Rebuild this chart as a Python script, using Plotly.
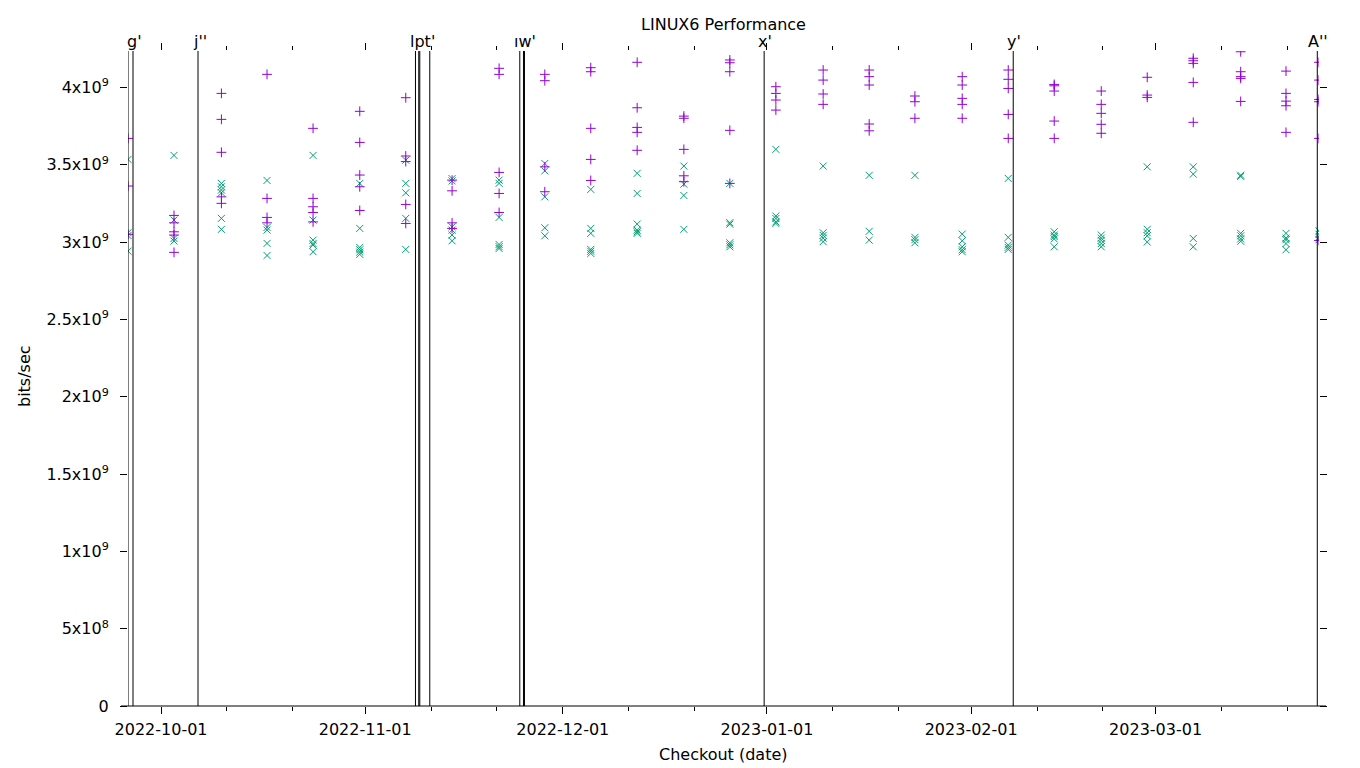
import plotly.graph_objects as go

# ---------------- data ----------------
checkout_dates = [
    "2022-09-25 23:44", "2022-10-02 23:23", "2022-10-10 04:08", "2022-10-17 02:20",
    "2022-10-24 02:00", "2022-10-31 04:12", "2022-11-07 03:50", "2022-11-14 04:34",
    "2022-11-21 07:55", "2022-11-28 06:29", "2022-12-05 06:00", "2022-12-12 06:58",
    "2022-12-19 09:07", "2022-12-26 08:38", "2023-01-02 08:24", "2023-01-09 12:43",
    "2023-01-16 12:29", "2023-01-23 11:02", "2023-01-30 15:22", "2023-02-06 15:07",
    "2023-02-13 14:38", "2023-02-20 18:00", "2023-02-27 17:31", "2023-03-06 17:17",
    "2023-03-13 22:05", "2023-03-20 19:12", "2023-03-25 19:26",
]

# bits/sec in units of 1e9, one list per checkout date
plus_values = [
    [3.670, 3.362, 3.050],
    [3.172, 3.124, 3.066, 3.045, 2.933],
    [3.961, 3.793, 3.580, 3.292, 3.250],
    [4.084, 3.282, 3.159, 3.124],
    [3.735, 3.282, 3.228, 3.191, 3.130],
    [3.845, 3.644, 3.433, 3.357, 3.204],
    [3.933, 3.556, 3.520, 3.243, 3.120],
    [3.400, 3.331, 3.124, 3.088],
    [4.123, 4.084, 3.450, 3.314, 3.191],
    [4.084, 4.043, 3.486, 3.325],
    [4.127, 4.101, 3.735, 3.534, 3.398],
    [4.162, 3.868, 3.741, 3.709, 3.593],
    [3.814, 3.800, 3.599, 3.428, 3.390],
    [4.177, 4.159, 4.101, 3.722, 3.379],
    [4.004, 3.961, 3.918, 3.853],
    [4.112, 4.047, 3.957, 3.890],
    [4.112, 4.069, 4.015, 3.763, 3.719],
    [3.944, 3.907, 3.800],
    [4.069, 4.015, 3.929, 3.890, 3.800],
    [4.112, 4.052, 3.993, 3.825, 3.670],
    [4.019, 4.010, 3.976, 3.782, 3.670],
    [3.976, 3.890, 3.832, 3.761, 3.703],
    [4.065, 3.950, 3.935],
    [4.188, 4.172, 4.155, 4.032, 3.774],
    [4.230, 4.101, 4.069, 4.058, 3.909],
    [4.105, 3.961, 3.911, 3.881, 3.709],
    [4.162, 4.047, 3.922, 3.907, 3.670, 3.010],
]

cross_values = [
    [3.534, 3.060, 3.042, 2.941],
    [3.560, 3.142, 3.023, 3.006],
    [3.379, 3.357, 3.336, 3.318, 3.153, 3.082],
    [3.398, 3.094, 3.077, 2.991, 2.913],
    [3.560, 3.142, 3.012, 2.990, 2.980, 2.937],
    [3.379, 3.088, 2.965, 2.950, 2.935, 2.920],
    [3.529, 3.379, 3.318, 3.153, 2.952],
    [3.410, 3.395, 3.098, 3.077, 3.045, 3.008],
    [3.400, 3.379, 3.159, 2.984, 2.970, 2.958],
    [3.508, 3.460, 3.292, 3.092, 3.040],
    [3.340, 3.088, 3.056, 2.952, 2.940, 2.926],
    [3.444, 3.314, 3.116, 3.077, 3.066, 3.056],
    [3.491, 3.374, 3.301, 3.082],
    [3.379, 3.125, 3.115, 2.995, 2.982, 2.969],
    [3.599, 3.168, 3.152, 3.130, 3.120],
    [3.491, 3.060, 3.043, 3.025, 3.002],
    [3.431, 3.069, 3.012],
    [3.431, 3.030, 3.015, 2.995],
    [3.051, 3.008, 2.969, 2.950, 2.937],
    [3.411, 3.030, 2.980, 2.965, 2.952],
    [3.066, 3.045, 3.035, 3.020, 2.969],
    [3.045, 3.025, 3.010, 2.990, 2.969],
    [3.486, 3.082, 3.060, 3.040, 3.000],
    [3.486, 3.439, 3.023, 2.969],
    [3.432, 3.424, 3.056, 3.040, 3.020, 3.005],
    [3.056, 3.025, 3.015, 2.990, 2.950],
    [3.072, 3.050, 3.030, 3.015],
]

event_dates = [
    "2022-09-25 23:44", "2022-09-26 17:57", "2022-10-06 14:51",
    "2022-11-08 15:11", "2022-11-09 03:13", "2022-11-09 06:57", "2022-11-10 19:19",
    "2022-11-24 11:20", "2022-11-25 00:43", "2022-11-25 04:22",
    "2022-12-31 13:42", "2023-02-07 09:14", "2023-03-25 13:12",
]
event_labels = ["g'", "j''", "lpt'", "ıw'", "x'", "y'", "A''"]
event_label_dates = [
    "2022-09-27 00:09", "2022-10-06 21:03", "2022-11-09 17:48", "2022-11-25 05:33",
    "2022-12-31 18:06", "2023-02-07 13:36", "2023-03-25 17:12",
]

month_ticks = ["2022-10-01", "2022-11-01", "2022-12-01", "2023-01-01", "2023-02-01", "2023-03-01"]
minor_ticks = ["2022-10-11", "2022-10-21", "2022-11-11", "2022-11-21", "2022-12-11",
               "2022-12-21", "2023-01-11", "2023-01-21", "2023-02-11", "2023-02-21",
               "2023-03-11", "2023-03-21"]
y_tickvals = [0, 0.5e9, 1e9, 1.5e9, 2e9, 2.5e9, 3e9, 3.5e9, 4e9]
y_ticktext = ["0", "5x10<sup>8</sup>", "1x10<sup>9</sup>", "1.5x10<sup>9</sup>",
              "2x10<sup>9</sup>", "2.5x10<sup>9</sup>", "3x10<sup>9</sup>",
              "3.5x10<sup>9</sup>", "4x10<sup>9</sup>"]

# ---------------- figure ----------------
FONT = "DejaVu Sans"
PURPLE = "#9400D3"
GREEN = "#009E73"

px_, py_ = [], []
for d, vals in zip(checkout_dates, plus_values):
    for v in vals:
        px_.append(d)
        py_.append(v * 1e9)
cx_, cy_ = [], []
for d, vals in zip(checkout_dates, cross_values):
    for v in vals:
        cx_.append(d)
        cy_.append(v * 1e9)

fig = go.Figure()
fig.add_trace(go.Scatter(x=cx_, y=cy_, mode="markers", showlegend=False,
                         marker=dict(symbol="x-thin", size=7, color=GREEN,
                                     line=dict(width=1, color=GREEN))))
fig.add_trace(go.Scatter(x=px_, y=py_, mode="markers", showlegend=False,
                         marker=dict(symbol="cross-thin", size=7, color=PURPLE,
                                     line=dict(width=1, color=PURPLE))))
# carrier trace for the mirrored (top/right) tick axes
fig.add_trace(go.Scatter(x=[checkout_dates[0]], y=[0], xaxis="x2", yaxis="y2",
                         mode="markers", marker=dict(opacity=0), hoverinfo="skip",
                         showlegend=False))

for d in event_dates:
    fig.add_shape(type="line", xref="x", yref="paper", x0=d, x1=d, y0=0, y1=1,
                  line=dict(color="black", width=1))

for lab, d in zip(event_labels, event_label_dates):
    fig.add_annotation(x=d, xref="x", y=1, yref="paper", text=lab, showarrow=False,
                       xanchor="center", yanchor="bottom", yshift=-2,
                       font=dict(family=FONT, size=16, color="black"))

W_PLOT = 1191
# bottom axis line (extends by tick length on both sides)
fig.add_shape(type="line", xref="paper", yref="paper", x0=-7 / W_PLOT, x1=1 + 7 / W_PLOT,
              y0=0, y1=0, line=dict(color="black", width=1))

tickfont = dict(family=FONT, size=16, color="black")
common_x = dict(type="date", tickmode="array", tickvals=month_ticks, ticks="outside",
                ticklen=7, tickwidth=1, tickcolor="black", showgrid=False,
                zeroline=False, showline=False,
                minor=dict(tickmode="array", tickvals=minor_ticks, ticks="outside",
                           ticklen=4, tickwidth=1, tickcolor="black", showgrid=False))

fig.update_layout(
    width=1360, height=768, autosize=False,
    margin=dict(l=128, r=41, t=51, b=62, pad=0),
    plot_bgcolor="white", paper_bgcolor="white",
    showlegend=False,
    font=dict(family=FONT, size=16, color="black"),
    title=dict(text="LINUX6 Performance", x=0.5, xref="paper", xanchor="center",
               y=1 - 24 / 768, yanchor="middle",
               font=dict(family=FONT, size=16, color="black")),
    xaxis=dict(range=[checkout_dates[0], checkout_dates[-1]], ticktext=month_ticks,
               tickfont=tickfont, ticklabelstandoff=2, **common_x),
    xaxis2=dict(overlaying="x", matches="x", side="top", anchor="y2",
                showticklabels=False, **common_x),
    yaxis=dict(range=[0, 4.235e9], tickmode="array", tickvals=y_tickvals,
               ticktext=y_ticktext, ticks="outside", ticklen=7, tickwidth=1,
               tickcolor="black", showgrid=False, zeroline=False, showline=False,
               tickfont=tickfont, ticklabelstandoff=8),
    yaxis2=dict(overlaying="y", matches="y", side="right", anchor="x2",
                tickmode="array", tickvals=y_tickvals, ticks="outside", ticklen=7,
                tickwidth=1, tickcolor="black", showgrid=False, zeroline=False,
                showline=False, showticklabels=False),
)

fig.add_annotation(x=0.5, xref="paper", y=-(754 - 706) / 655, yref="paper",
                   text="Checkout (date)", showarrow=False, xanchor="center",
                   yanchor="middle", font=dict(family=FONT, size=16, color="black"))
fig.add_annotation(x=-(128 - 24) / W_PLOT, xref="paper", y=(706 - 376) / 655, yref="paper",
                   text="bits/sec", showarrow=False, textangle=-90, xanchor="center",
                   yanchor="middle", font=dict(family=FONT, size=16, color="black"))

fig.write_html("out.html", config={"displayModeBar": False},
               post_script="document.body.style.margin='0px';"
                           "document.body.style.overflow='hidden';")
